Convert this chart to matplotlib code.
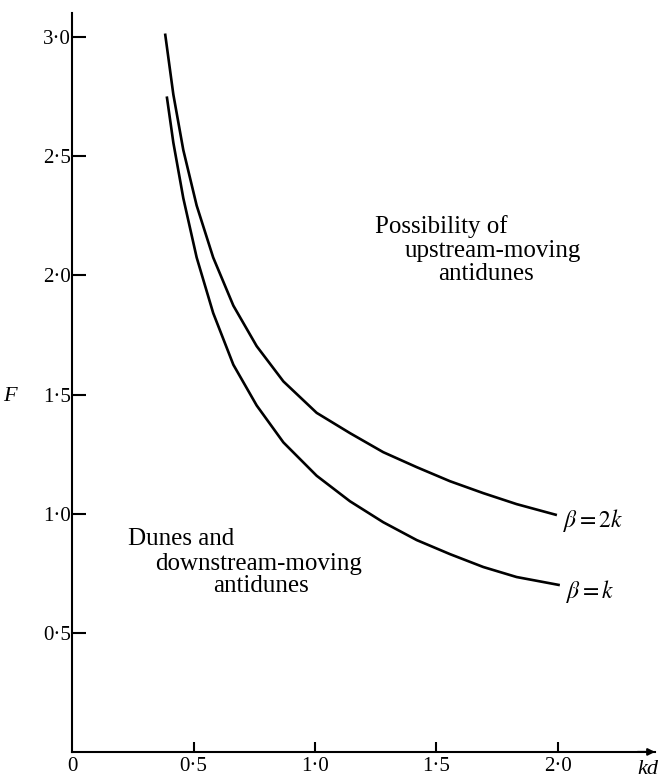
import matplotlib
matplotlib.use("Agg")
import matplotlib.pyplot as plt

plt.rcParams["font.family"] = ["Liberation Serif", "DejaVu Serif"]
plt.rcParams["mathtext.fontset"] = "stix"

# curve beta = 2k
kd_2k = [0.383, 0.417, 0.458, 0.513, 0.581, 0.664, 0.760, 0.870, 1.007, 1.144,
         1.281, 1.419, 1.556, 1.693, 1.830, 1.996]
F_2k = [3.015, 2.759, 2.526, 2.293, 2.075, 1.873, 1.703, 1.555, 1.423, 1.338,
        1.258, 1.195, 1.136, 1.086, 1.040, 0.994]

# curve beta = k
kd_k = [0.390, 0.417, 0.458, 0.513, 0.581, 0.664, 0.760, 0.870, 1.007, 1.144,
        1.281, 1.419, 1.556, 1.693, 1.830, 2.008]
F_k = [2.751, 2.557, 2.324, 2.075, 1.842, 1.625, 1.454, 1.299, 1.159, 1.052,
       0.964, 0.889, 0.830, 0.776, 0.734, 0.700]

x_ticks = [0.0, 0.5, 1.0, 1.5, 2.0]
x_labels = ["0", "0·5", "1·0", "1·5", "2·0"]
y_ticks = [0.5, 1.0, 1.5, 2.0, 2.5, 3.0]
y_labels = ["0·5", "1·0", "1·5", "2·0", "2·5", "3·0"]

fig = plt.figure(figsize=(6.61, 7.80), dpi=100)
ax = fig.add_axes([0.109, 0.036, 0.882, 0.947])

ax.plot(kd_2k, F_2k, color="black", lw=1.9, solid_capstyle="butt", solid_joinstyle="round")
ax.plot(kd_k, F_k, color="black", lw=1.9, solid_capstyle="butt", solid_joinstyle="round")

ax.set_xlim(0, 2.4)
ax.set_ylim(0, 3.1)

for s in ["top", "right"]:
    ax.spines[s].set_visible(False)
for s in ["left", "bottom"]:
    ax.spines[s].set_linewidth(1.5)

ax.set_xticks(x_ticks)
ax.set_xticklabels(x_labels)
ax.set_yticks(y_ticks)
ax.set_yticklabels(y_labels)
ax.tick_params(axis="y", direction="in", length=10, width=1.5, labelsize=15, pad=1)
ax.tick_params(axis="x", direction="in", length=7, width=1.5, labelsize=15, pad=4)
ax.xaxis.get_major_ticks()[0].tick1line.set_visible(False)

# arrow on the kd axis
ax.annotate("", xy=(1.0, 0), xytext=(0.97, 0), xycoords="axes fraction",
            arrowprops=dict(arrowstyle="-|>", color="black", lw=1.5,
                            mutation_scale=10, shrinkA=0, shrinkB=0))

ax.text(2.37, -0.075, "kd", style="italic", fontsize=16, ha="center", va="center",
        clip_on=False)
ax.text(-0.255, 1.49, "F", style="italic", fontsize=16, ha="center", va="center",
        clip_on=False)

ax.text(1.247, 2.176, "Possibility of", fontsize=18, ha="left", va="baseline")
ax.text(1.370, 2.075, "upstream-moving", fontsize=18, ha="left", va="baseline")
ax.text(1.506, 1.979, "antidunes", fontsize=18, ha="left", va="baseline")

ax.text(0.230, 0.868, "Dunes and", fontsize=18, ha="left", va="baseline")
ax.text(0.342, 0.763, "downstream-moving", fontsize=18, ha="left", va="baseline")
ax.text(0.580, 0.671, "antidunes", fontsize=18, ha="left", va="baseline")

ax.text(2.02, 0.97, r"$\beta = 2k$", fontsize=17, ha="left", va="center")
ax.text(2.035, 0.675, r"$\beta = k$", fontsize=17, ha="left", va="center")

fig.savefig("out.png", dpi=100)
